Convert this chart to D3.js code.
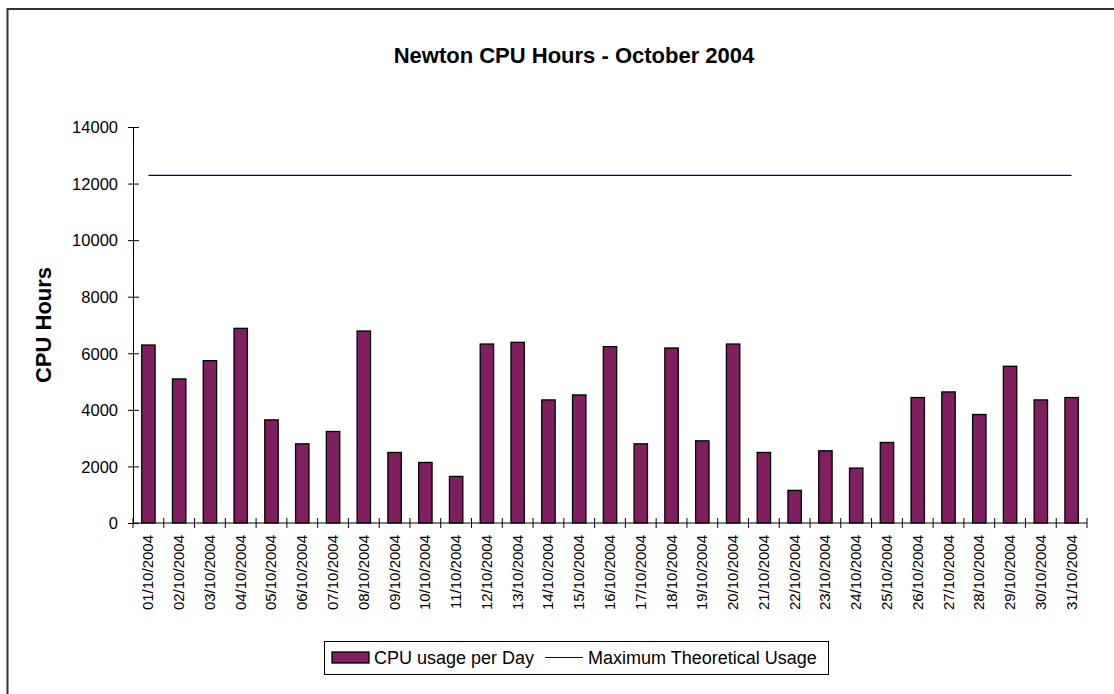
<!DOCTYPE html>
<html>
<head>
<meta charset="utf-8">
<script src="https://cdn.jsdelivr.net/npm/d3@7"></script>
<style>
  body { margin: 0; background: #fff; }
  svg { display: block; font-family: "Liberation Sans", Arial, sans-serif; }
</style>
</head>
<body>
<div id="chart"></div>
<script>
// days of October 2004
var days = [
  '01/10/2004', '02/10/2004', '03/10/2004', '04/10/2004', '05/10/2004',
  '06/10/2004', '07/10/2004', '08/10/2004', '09/10/2004', '10/10/2004',
  '11/10/2004', '12/10/2004', '13/10/2004', '14/10/2004', '15/10/2004',
  '16/10/2004', '17/10/2004', '18/10/2004', '19/10/2004', '20/10/2004',
  '21/10/2004', '22/10/2004', '23/10/2004', '24/10/2004', '25/10/2004',
  '26/10/2004', '27/10/2004', '28/10/2004', '29/10/2004', '30/10/2004',
  '31/10/2004'
];
var cpuHours = [
  6292, 5093, 5739, 6882, 3646, 2799, 3235, 6787, 2494, 2141,
  1647, 6327, 6387, 4352, 4528, 6235, 2799, 6187, 2905, 6327,
  2494, 1153, 2552, 1941, 2847, 4435, 4634, 3835, 5541, 4352,
  4435
];
var maxUsage = 12288;
var yTicks = [0, 2000, 4000, 6000, 8000, 10000, 12000, 14000];
var seriesNames = ['CPU usage per Day', 'Maximum Theoretical Usage'];

(function(d3) {
  'use strict';

  var width = 1114, height = 694;
  var plotLeft = 133, plotRight = 1087, plotTop = 127, plotBottom = 523;
  var barColor = '#7f1f5f', lineColor = '#000080';

  var svg = d3.select('#chart').append('svg')
    .attr('width', width)
    .attr('height', height);

  // chart area border (only top and left visible)
  svg.append('path')
    .attr('d', 'M7.5,694 L7.5,9 L1114,9')
    .attr('fill', 'none')
    .attr('stroke', '#333')
    .attr('stroke-width', 2);

  svg.append('text')
    .attr('x', 574)
    .attr('y', 63)
    .attr('text-anchor', 'middle')
    .style('font-size', '22px')
    .style('font-weight', 'bold')
    .text('Newton CPU Hours - October 2004');

  var x = d3.scaleBand()
    .domain(days)
    .range([plotLeft, plotRight])
    .paddingInner(0.565)
    .paddingOuter(0.2825);

  var y = d3.scaleLinear()
    .domain([0, 14000])
    .range([plotBottom, plotTop]);

  // bars
  svg.append('g').selectAll('rect')
    .data(cpuHours)
    .enter()
    .append('rect')
    .attr('x', function(d, i) { return x(days[i]); })
    .attr('y', function(d) { return y(d); })
    .attr('width', x.bandwidth())
    .attr('height', function(d) { return y(0) - y(d); })
    .attr('fill', barColor)
    .attr('stroke', '#000')
    .attr('stroke-width', 1.3);

  // max theoretical usage line
  var c0 = x(days[0]) + x.bandwidth() / 2;
  var c1 = x(days[days.length - 1]) + x.bandwidth() / 2;
  svg.append('line')
    .attr('x1', c0).attr('x2', c1)
    .attr('y1', y(maxUsage)).attr('y2', y(maxUsage))
    .attr('stroke', lineColor)
    .attr('stroke-width', 1.2);

  // y axis
  var yAxis = svg.append('g')
    .attr('transform', 'translate(' + plotLeft + ',0)')
    .call(d3.axisLeft(y).tickValues(yTicks).tickSize(5).tickFormat(d3.format('d')));
  yAxis.select('.domain').attr('stroke', '#000');
  yAxis.selectAll('.tick line').attr('x1', 6).attr('stroke', '#000');
  yAxis.selectAll('.tick text')
    .attr('x', -15)
    .attr('dy', '0.35em')
    .style('font-size', '16.5px')
    .style('font-family', '"Liberation Sans", Arial, sans-serif')
    .attr('fill', '#000');

  svg.append('text')
    .attr('transform', 'translate(51,' + ((plotTop + plotBottom) / 2) + ') rotate(-90)')
    .attr('text-anchor', 'middle')
    .style('font-size', '22px')
    .style('font-weight', 'bold')
    .text('CPU Hours');

  // x axis: line with cross ticks at the category boundaries
  var xg = svg.append('g');
  xg.append('line')
    .attr('x1', plotLeft).attr('x2', plotRight)
    .attr('y1', plotBottom).attr('y2', plotBottom)
    .attr('stroke', '#000');
  var bounds = days.map(function(d) { return x(d) - x.step() * x.paddingOuter(); });
  bounds.push(plotRight);
  xg.selectAll('.xt')
    .data(bounds)
    .enter()
    .append('line')
    .attr('class', 'xt')
    .attr('x1', function(d) { return d; })
    .attr('x2', function(d) { return d; })
    .attr('y1', plotBottom - 5)
    .attr('y2', plotBottom + 5)
    .attr('stroke', '#000');
  xg.selectAll('.xl')
    .data(days)
    .enter()
    .append('text')
    .attr('class', 'xl')
    .attr('transform', function(d) {
      return 'translate(' + (x(d) + x.bandwidth() / 2 + 5) + ',535) rotate(-90)';
    })
    .attr('text-anchor', 'end')
    .style('font-size', '15px')
    .text(function(d) { return d; });

  // legend
  var lg = svg.append('g');
  lg.append('rect')
    .attr('x', 324.5).attr('y', 641.5)
    .attr('width', 504).attr('height', 33)
    .attr('fill', '#fff')
    .attr('stroke', '#000');
  lg.append('rect')
    .attr('x', 332).attr('y', 652)
    .attr('width', 37).attr('height', 11)
    .attr('fill', barColor)
    .attr('stroke', '#000')
    .attr('stroke-width', 1.3);
  lg.append('text')
    .attr('x', 374).attr('y', 664)
    .style('font-size', '18px')
    .text(seriesNames[0]);
  lg.append('line')
    .attr('x1', 545).attr('x2', 583)
    .attr('y1', 657.5).attr('y2', 657.5)
    .attr('stroke', lineColor)
    .attr('stroke-width', 1.2);
  lg.append('text')
    .attr('x', 588).attr('y', 664)
    .style('font-size', '18px')
    .text(seriesNames[1]);
})(window.d3);
</script>
</body>
</html>
